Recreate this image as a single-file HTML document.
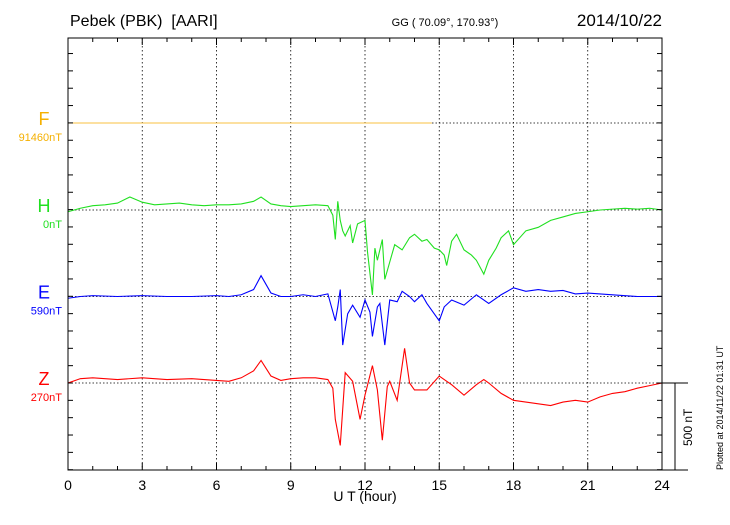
<!DOCTYPE html>
<html><head><meta charset="utf-8"><style>
body{margin:0;background:#fff;}
svg text{font-family:"Liberation Sans",Arial,sans-serif;}
</style></head><body>
<svg id="chart" width="730" height="520" xmlns="http://www.w3.org/2000/svg">
<text x="70" y="26" font-size="16">Pebek (PBK)&#160;&#160;[AARI]</text>
<text x="445" y="26" font-size="11" text-anchor="middle">GG ( 70.09°, 170.93°)</text>
<text x="662" y="26" font-size="17" text-anchor="end">2014/10/22</text>
<text x="365" y="501" font-size="14" text-anchor="middle">U T (hour)</text>
<text transform="translate(723,470) rotate(-90)" font-size="9">Plotted at 2014/11/22 01:31  UT</text>
<g id="grid"></g><g id="series"></g><g id="axes"></g>
</svg>
<script>
const hourTicks=[0,3,6,9,12,15,18,21,24];
const fTimes=[0,14.7];
const fVals=[0,0];
const hTimes=[0,0.5,1,1.5,2,2.5,3,3.5,4,4.5,5,5.5,6,6.5,7,7.5,7.8,8.2,8.6,9,9.5,10,10.5,10.7,10.8,10.9,11,11.1,11.2,11.4,11.5,11.7,12,12.1,12.3,12.4,12.5,12.7,12.8,13,13.2,13.5,13.8,14,14.3,14.5,14.8,15,15.2,15.3,15.5,15.7,16,16.3,16.5,16.8,17,17.3,17.5,17.8,18,18.5,19,19.5,20,20.5,21,21.5,22,22.5,23,23.5,24];
const hVals=[-10,10,25,30,40,75,45,30,35,40,30,25,30,30,35,50,75,35,25,20,25,30,25,-30,-170,50,-60,-120,-150,-90,-190,-80,-60,-240,-490,-220,-290,-170,-400,-300,-200,-230,-160,-140,-180,-170,-220,-230,-260,-320,-180,-140,-230,-260,-290,-370,-290,-220,-160,-120,-200,-120,-100,-60,-40,-20,-10,0,5,10,5,10,0];
const eTimes=[0,0.5,1,2,3,4,5,6,6.5,7,7.5,7.8,8.2,8.6,9,9.5,10,10.5,10.8,10.9,11,11.1,11.3,11.5,11.8,12,12.2,12.3,12.5,12.6,12.8,13,13.3,13.5,13.8,14,14.3,14.5,15,15.2,15.5,16,16.5,17,17.5,18,18.5,19,19.5,20,20.5,21,22,23,24];
const eVals=[-10,0,5,0,5,0,0,5,0,10,40,120,20,0,0,10,0,15,-140,-60,40,-280,-100,-50,-120,-20,-90,-230,-60,-40,-280,-20,-30,30,0,-30,10,-40,-140,-60,-20,-50,10,-40,10,50,30,40,30,35,15,20,10,0,0];
const zTimes=[0,0.5,1,2,3,4,5,6,6.5,7,7.5,7.8,8.2,8.6,9,9.5,10,10.5,10.7,10.8,11,11.2,11.5,11.8,12,12.3,12.5,12.7,12.9,13,13.3,13.6,13.8,14,14.5,15,15.5,16,16.5,16.8,17,17.5,18,18.5,19,19.5,20,20.5,21,21.5,22,22.5,23,23.5,24];
const zVals=[0,25,30,20,30,20,25,15,10,30,70,130,40,15,25,30,30,20,-30,-210,-360,60,10,-210,-70,100,-40,-330,-20,10,-100,200,0,-40,-40,40,-10,-70,-10,20,0,-60,-100,-110,-120,-130,-110,-100,-110,-80,-60,-50,-30,-15,0];
const channels=["F","H","E","Z"];
const baseLabels=["91460nT","0nT","590nT","270nT"];
const colors=["#f5b000","#20e020","#0000ff","#ff0000"];
const bases=[123,210,296.5,383];
const X0=68,X1=662,Y0=38,Y1=470,PXNT=86.7/500;
const ns="http://www.w3.org/2000/svg";
const sx=h=>X0+(X1-X0)*h/24;
const sy=(i,v)=>bases[i]-v*PXNT;
function mk(tag,attrs,parent){const e=document.createElementNS(ns,tag);for(const k in attrs)e.setAttribute(k,attrs[k]);document.getElementById(parent).appendChild(e);return e;}
hourTicks.forEach(h=>{
 if(h>0&&h<24){const g=mk('line',{x1:sx(h),x2:sx(h),y1:Y0,y2:Y1,stroke:'#000','stroke-width':0.8,'stroke-dasharray':'1.5,2.5'},'grid');
 
 }
 const t=mk('text',{x:sx(h),y:490,'font-size':14,'text-anchor':'middle'},'axes');t.textContent=h;
 
 
});
for(let h=1;h<24;h++){
 const a=mk('line',{x1:sx(h),x2:sx(h),y1:Y1,y2:Y1-(h%3?4:7),stroke:'#000'},'axes');
 
 
 const b=mk('line',{x1:sx(h),x2:sx(h),y1:Y0,y2:Y0+(h%3?4:7),stroke:'#000'},'axes');
 
 
}
for(let y=bases[3]+86.7;y>Y0;y-=86.7/5){
 [[X0,X0+5],[X1,X1-5]].forEach(p=>{const l=mk('line',{x1:p[0],x2:p[1],y1:y,y2:y,stroke:'#000'},'axes');
 
 });
}
const series=[[fTimes,fVals],[hTimes,hVals],[eTimes,eVals],[zTimes,zVals]];
channels.forEach((c,i)=>{
 const g=mk('line',{x1:X0,x2:X1,y1:bases[i],y2:bases[i],stroke:'#000','stroke-width':0.8,'stroke-dasharray':'1.5,2'},'grid');
 
 
 const [ts,vs]=series[i];
 const p=mk('polyline',{points:ts.map((t,k)=>sx(t)+','+sy(i,vs[k])).join(' '),fill:'none',stroke:i==0?'#f8c040':colors[i],'stroke-width':1.1},'series');
 
 
 const l=mk('text',{x:44,y:bases[i]+2,'font-size':18,'text-anchor':'middle',fill:colors[i]},'axes');l.textContent=c;
 
 
 const v=mk('text',{x:62,y:bases[i]+18,'font-size':11,'text-anchor':'end',fill:colors[i]},'axes');v.textContent=baseLabels[i];
 
 
});
const fr=mk('rect',{x:X0,y:Y0,width:X1-X0,height:Y1-Y0,fill:'none',stroke:'#000','stroke-width':1},'axes');


const s1=mk('line',{x1:X1,x2:688,y1:bases[3],y2:bases[3],stroke:'#000'},'axes');


const s2=mk('line',{x1:X1,x2:688,y1:Y1,y2:Y1,stroke:'#000'},'axes');


const s3=mk('line',{x1:675,x2:675,y1:bases[3],y2:Y1,stroke:'#000'},'axes');


const st=mk('text',{transform:'translate(692,446) rotate(-90)','font-size':12},'axes');st.textContent='500 nT';


</script>
</body></html>
